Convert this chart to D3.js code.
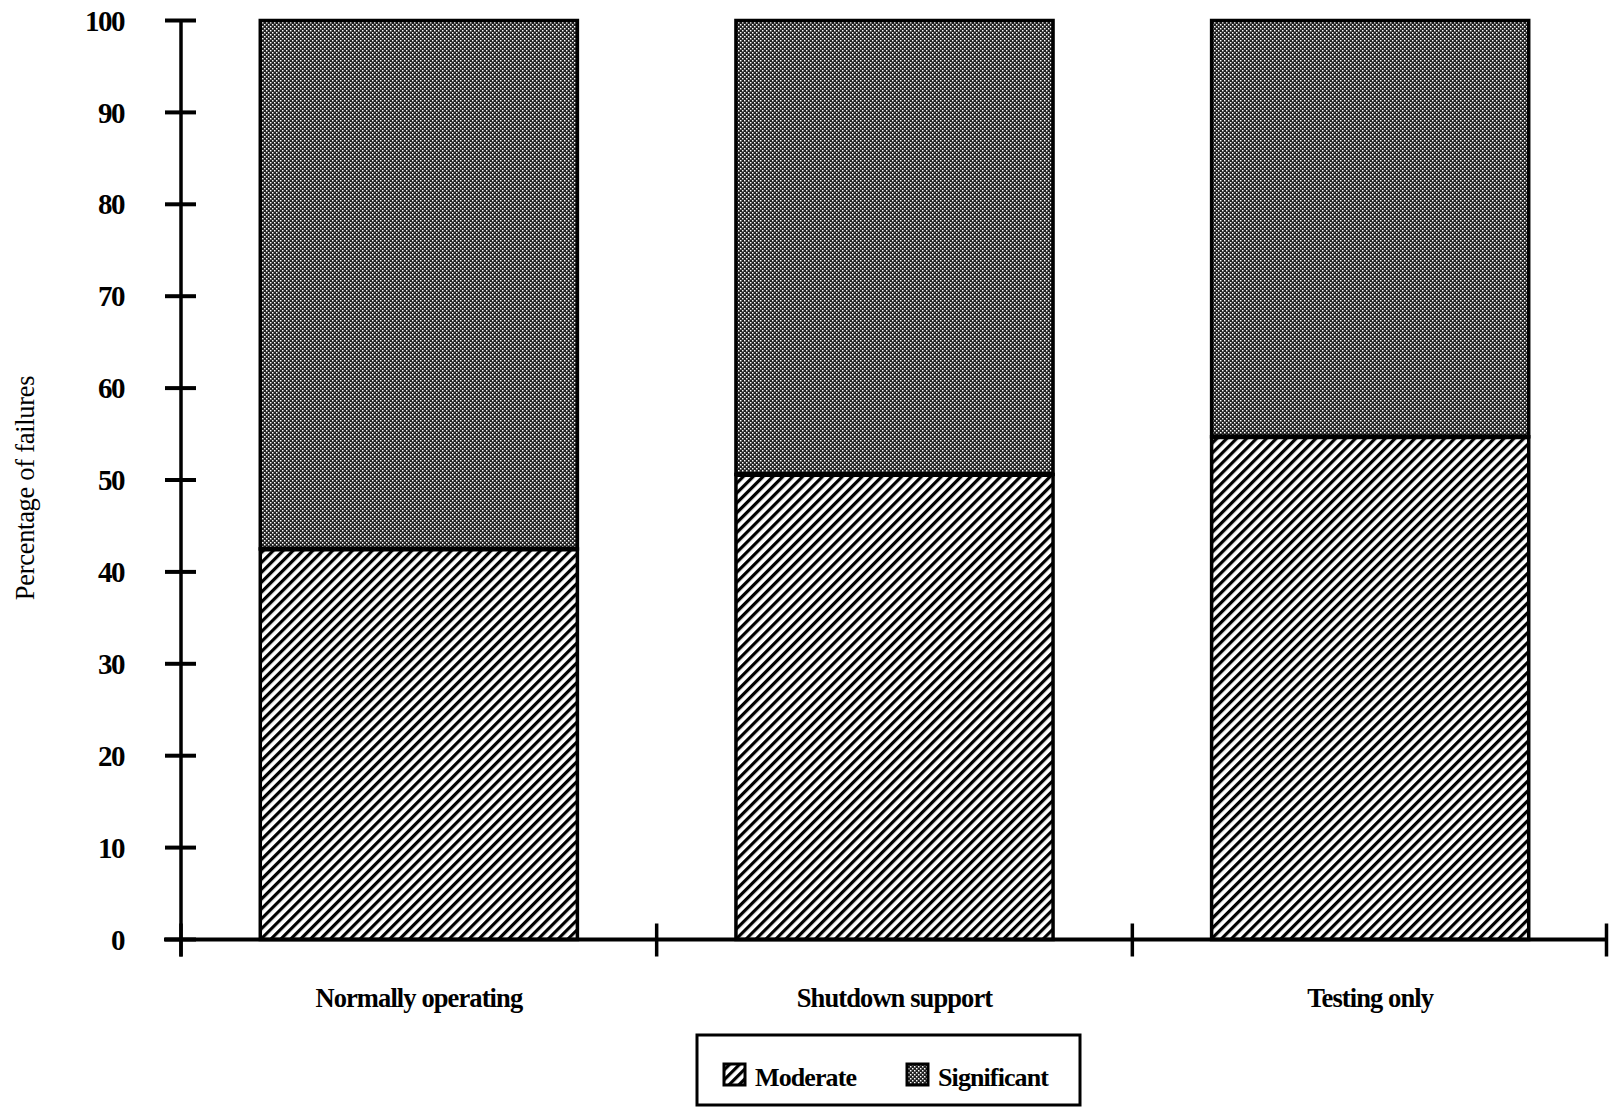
<!DOCTYPE html>
<html><head><meta charset="utf-8">
<script src="https://cdn.jsdelivr.net/npm/d3@7"></script>
<style>body{margin:0;background:#fff}</style>
</head><body>
<svg id="c" width="1610" height="1107"></svg>
<script>
const categories = ["Normally operating", "Shutdown support", "Testing only"];
const moderate = [42.5, 50.6, 54.7];
const significant = [57.5, 49.4, 45.3];
const seriesNames = ["Moderate", "Significant"];
const yTicks = [0, 10, 20, 30, 40, 50, 60, 70, 80, 90, 100];

const svg = d3.select("#c");
const font = "'Liberation Serif', 'Times New Roman', serif";
const defs = svg.append("defs");
const hatch = defs.append("pattern").attr("id", "hatch").attr("patternUnits", "userSpaceOnUse")
  .attr("width", 7).attr("height", 7).attr("patternTransform", "rotate(45)");
hatch.append("rect").attr("width", 7).attr("height", 7).attr("fill", "#fff");
hatch.append("rect").attr("x", 0).attr("width", 3.2).attr("height", 7).attr("fill", "#000");
const dots = defs.append("pattern").attr("id", "dots").attr("patternUnits", "userSpaceOnUse")
  .attr("width", 4).attr("height", 4);
dots.append("rect").attr("width", 4).attr("height", 4).attr("fill", "#222");
dots.append("rect").attr("x", 0).attr("y", 0).attr("width", 1.45).attr("height", 1.45).attr("fill", "#fff");
dots.append("rect").attr("x", 2).attr("y", 2).attr("width", 1.45).attr("height", 1.45).attr("fill", "#fff");

const x = d3.scaleBand().domain(categories).range([181, 1608]).paddingInner(1/3).paddingOuter(1/6);
const y = d3.scaleLinear().domain([0, 100]).range([939.5, 20.5]);

const rows = categories.map((c, i) => ({c, m: moderate[i], s: significant[i]}));
const g = svg.append("g");
rows.forEach(r => {
  g.append("rect").attr("x", x(r.c)).attr("width", x.bandwidth())
    .attr("y", y(r.m + r.s)).attr("height", y(r.m) - y(r.m + r.s))
    .attr("fill", "url(#dots)").attr("stroke", "#000").attr("stroke-width", 3.5);
  g.append("rect").attr("x", x(r.c)).attr("width", x.bandwidth())
    .attr("y", y(r.m)).attr("height", y(0) - y(r.m))
    .attr("fill", "url(#hatch)").attr("stroke", "#000").attr("stroke-width", 3.5);
  g.append("line").attr("x1", x(r.c)).attr("x2", x(r.c) + x.bandwidth())
    .attr("y1", y(r.m)).attr("y2", y(r.m)).attr("stroke", "#000").attr("stroke-width", 5);
});

// Y axis
const yAxis = svg.append("g");
yAxis.append("line").attr("x1", 181).attr("x2", 181).attr("y1", y(100)).attr("y2", y(0) + 17)
  .attr("stroke", "#000").attr("stroke-width", 3.5);
yTicks.forEach(t => {
  yAxis.append("line").attr("x1", 165).attr("x2", 196).attr("y1", y(t)).attr("y2", y(t))
    .attr("stroke", "#000").attr("stroke-width", 4);
  yAxis.append("text").attr("x", 124).attr("y", y(t)).attr("dy", "0.35em")
    .attr("text-anchor", "end").attr("font-family", font).attr("font-weight", "bold")
    .attr("font-size", 29).attr("letter-spacing", -1.5).text(t);
});
// X axis
const xAxis = svg.append("g");
xAxis.append("line").attr("x1", 164).attr("x2", 1608).attr("y1", y(0)).attr("y2", y(0))
  .attr("stroke", "#000").attr("stroke-width", 4);
const bounds = [x.range()[0], ...categories.slice(1).map(c => x(c) - x.step() * x.paddingInner() / 2), x.range()[1] - 1.5];
bounds.forEach(b => {
  xAxis.append("line").attr("x1", b).attr("x2", b).attr("y1", y(0) - 16).attr("y2", y(0) + 17)
    .attr("stroke", "#000").attr("stroke-width", 3.5);
});
categories.forEach(c => {
  xAxis.append("text").attr("x", x(c) + x.bandwidth() / 2).attr("y", 1007)
    .attr("text-anchor", "middle").attr("font-family", font).attr("font-weight", "bold")
    .attr("font-size", 26.5).attr("letter-spacing", -0.9).text(c);
});

// Y label
svg.append("text").attr("transform", "translate(34,488) rotate(-90)")
  .attr("text-anchor", "middle").attr("font-family", font).attr("font-size", 26.5)
  .attr("letter-spacing", -0.3).text("Percentage of failures");

// Legend
const lg = svg.append("g");
lg.append("rect").attr("x", 697).attr("y", 1035).attr("width", 383).attr("height", 70)
  .attr("fill", "#fff").attr("stroke", "#000").attr("stroke-width", 3);
const items = [{n: seriesNames[0], f: "url(#hatch)", sx: 724, tx: 755}, {n: seriesNames[1], f: "url(#dots)", sx: 907, tx: 938}];
items.forEach(it => {
  lg.append("rect").attr("x", it.sx).attr("y", 1064).attr("width", 21).attr("height", 21)
    .attr("fill", it.f).attr("stroke", "#000").attr("stroke-width", 3);
  lg.append("text").attr("x", it.tx).attr("y", 1086).attr("font-family", font).attr("font-weight", "bold")
    .attr("font-size", 26).attr("letter-spacing", -0.9).text(it.n);
});
</script>
</body></html>
